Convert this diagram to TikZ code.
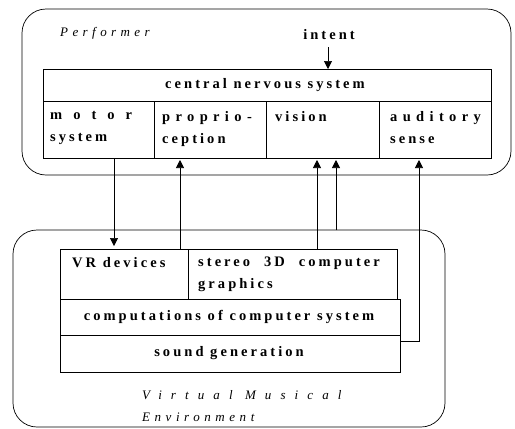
\documentclass[tikz,border=0pt]{standalone}
\usepackage{fontspec}
\setmainfont{Liberation Serif}
\newfontfamily\spaced[LetterSpace=21]{Liberation Serif}
\newfontfamily\wide[LetterSpace=37]{Liberation Serif}
\newfontfamily\perffont[LetterSpace=34]{Liberation Serif}
\newfontfamily\vmfont[LetterSpace=70]{Liberation Serif}
\newfontfamily\envfont[LetterSpace=35]{Liberation Serif}
\usetikzlibrary{arrows.meta}
\begin{document}
\begin{tikzpicture}[x=1pt,y=-1pt,
  box/.style={draw,line width=1.1pt,inner sep=0pt,anchor=north west},
  outer/.style={draw,line width=0.7pt,rounded corners=24pt},
  lbl/.style={inner sep=0pt,font=\spaced\bfseries\fontsize{14.5}{22}\selectfont},
  tl/.style={lbl,anchor=north west,align=left},
  captxt/.style={inner sep=0pt,anchor=west,font=\itshape\fontsize{13}{22}\selectfont,align=left},
  conn/.style={line width=0.7pt},
  arr/.style={conn,-{Triangle[width=8pt,length=8pt]}}]
\useasboundingbox (0,0) rectangle (515,429);
% outer boxes
\draw[outer] (22,9) rectangle (511,175);
\draw[outer] (13,230) rectangle (445,427);
% performer
\node[captxt,font=\perffont\itshape\fontsize{13}{22}\selectfont] (perf) at (60,33) {Performer};
\node[lbl] (intent) at (329,35) {intent};
\node[box,minimum width=448pt,minimum height=32pt] (cns) at (43,69) {};
\node[lbl] (cnst) at (265,85) {central nervous system};
\node[box,minimum width=111pt,minimum height=57pt] (motor) at (43,101) {};
\node[box,minimum width=112pt,minimum height=57pt] (prop) at (154,101) {};
\node[box,minimum width=113pt,minimum height=57pt] (vis) at (266,101) {};
\node[box,minimum width=112pt,minimum height=57pt] (aud) at (379,101) {};
\node[tl] (motort) at (50,111) {m\hspace{11pt}o\hspace{11pt}t\hspace{11pt}o\hspace{11pt}r\\system};
\node[tl] (propt) at (162,111) {{\wide proprio-}\\ception};
\node[tl] (vist) at (275,111) {vision};
\node[tl] (audt) at (390,111) {{\wide auditory}\\sense};
% environment
\node[box,minimum width=128pt,minimum height=50pt] (vr) at (60,249) {};
\node[box,minimum width=209pt,minimum height=50pt] (gfx) at (188,249) {};
\node[box,minimum width=340pt,minimum height=36pt] (comp) at (60,299) {};
\node[box,minimum width=340pt,minimum height=37pt] (snd) at (60,335) {};
\node[tl] (vrt) at (72,257) {VR devices};
\node[tl] (gfxt) at (198,257) {stereo\hspace{14pt}3D\hspace{14pt}computer\\graphics};
\node[lbl] (compt) at (229,317) {computations of computer system};
\node[lbl] (sndt) at (229,353) {sound generation};
\node[captxt] (env) at (142,406) {{\vmfont\itshape Virtual Musical}\\[0pt]{\envfont\itshape Environment}};
% connector end points
\coordinate (intentA) at (328,47);
\coordinate (intentB) at (328,69);
\coordinate (motorA) at (114,158);
\coordinate (motorB) at (114,246);
\coordinate (propA) at (180,249);
\coordinate (propB) at (180,160);
\coordinate (visA) at (317,249);
\coordinate (visB) at (317,160);
\coordinate (envtop) at (336,230);
\coordinate (visC) at (336,160);
\coordinate (sndA) at (400,341);
\coordinate (audB) at (419,160);
% connectors
\draw[arr] (intentA) -- (intentB);
\draw[arr] (motorA) -- (motorB);
\draw[arr] (propA) -- (propB);
\draw[arr] (visA) -- (visB);
\draw[arr] (envtop) -- (visC);
\draw[arr] (sndA) -| (audB);
\end{tikzpicture}
\end{document}
